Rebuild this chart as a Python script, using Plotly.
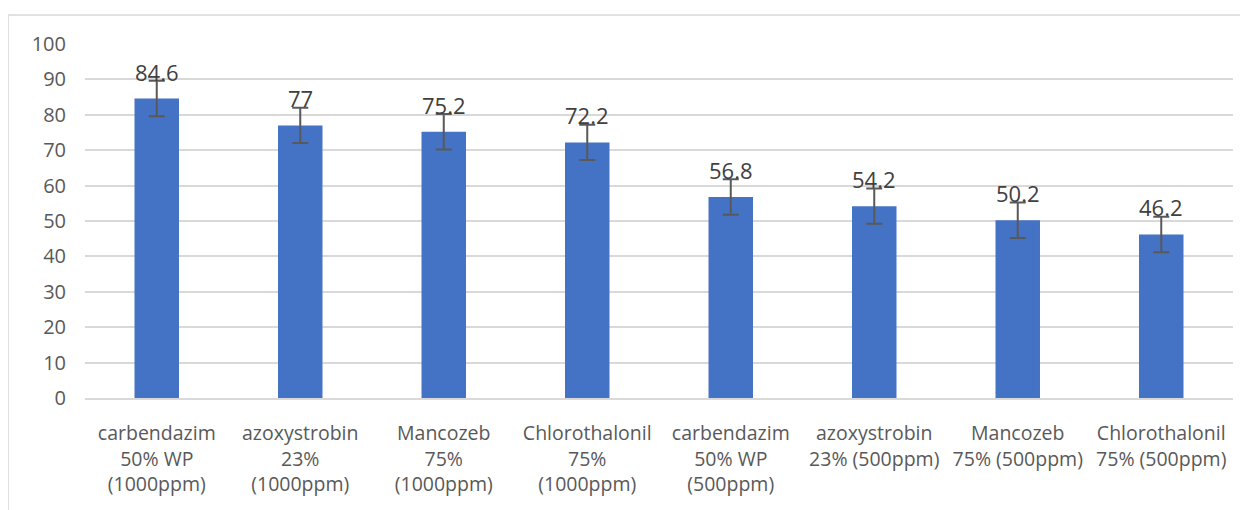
import plotly.graph_objects as go

categories = [
    "carbendazim<br>50% WP<br>(1000ppm)",
    "azoxystrobin<br>23%<br>(1000ppm)",
    "Mancozeb<br>75%<br>(1000ppm)",
    "Chlorothalonil<br>75%<br>(1000ppm)",
    "carbendazim<br>50% WP<br>(500ppm)",
    "azoxystrobin<br>23% (500ppm)",
    "Mancozeb<br>75% (500ppm)",
    "Chlorothalonil<br>75% (500ppm)",
]
values = [84.6, 77, 75.2, 72.2, 56.8, 54.2, 50.2, 46.2]
value_labels = ["84.6", "77", "75.2", "72.2", "56.8", "54.2", "50.2", "46.2"]
errors = [5, 5, 5, 5, 5, 5, 5, 5]
y_ticks = [0, 10, 20, 30, 40, 50, 60, 70, 80, 90, 100]

FONT = "Open Sans"
fig = go.Figure()
fig.add_trace(go.Bar(
    x=categories,
    y=values,
    marker=dict(color="#4472C4", line=dict(width=0)),
    error_y=dict(type="data", array=errors, visible=True,
                 color="#595959", thickness=2, width=8),
    hoverinfo="skip",
))

for c, v, t in zip(categories, values, value_labels):
    fig.add_annotation(x=c, y=v, text=t, showarrow=False, yanchor="bottom",
                       yshift=10, font=dict(family=FONT, size=22, color="#404040"))

fig.add_shape(type="rect", xref="paper", yref="paper",
              x0=-0.067, x1=1.05, y0=-0.4, y1=1.082,
              line=dict(color="#D9D9D9", width=1.5), layer="below")

fig.update_layout(
    width=1240, height=502,
    margin=dict(l=77, r=15, t=36, b=112),
    paper_bgcolor="white", plot_bgcolor="white",
    bargap=0.69,
    showlegend=False,
    font=dict(family=FONT, size=20, color="#595959"),
    xaxis=dict(showgrid=False, showline=True, linecolor="#D9D9D9", linewidth=1.5,
               ticks="", tickfont=dict(family=FONT, size=19.5, color="#595959"),
               ticklabelstandoff=17, tickangle=0, automargin=False),
    yaxis=dict(range=[0, 100], tickvals=y_ticks, showgrid=True, gridcolor="#D9D9D9",
               gridwidth=1.5, zeroline=False, showline=False, ticks="",
               tickfont=dict(family=FONT, size=20, color="#595959"),
               ticklabelstandoff=18, automargin=False),
)

fig.write_html("out.html")
